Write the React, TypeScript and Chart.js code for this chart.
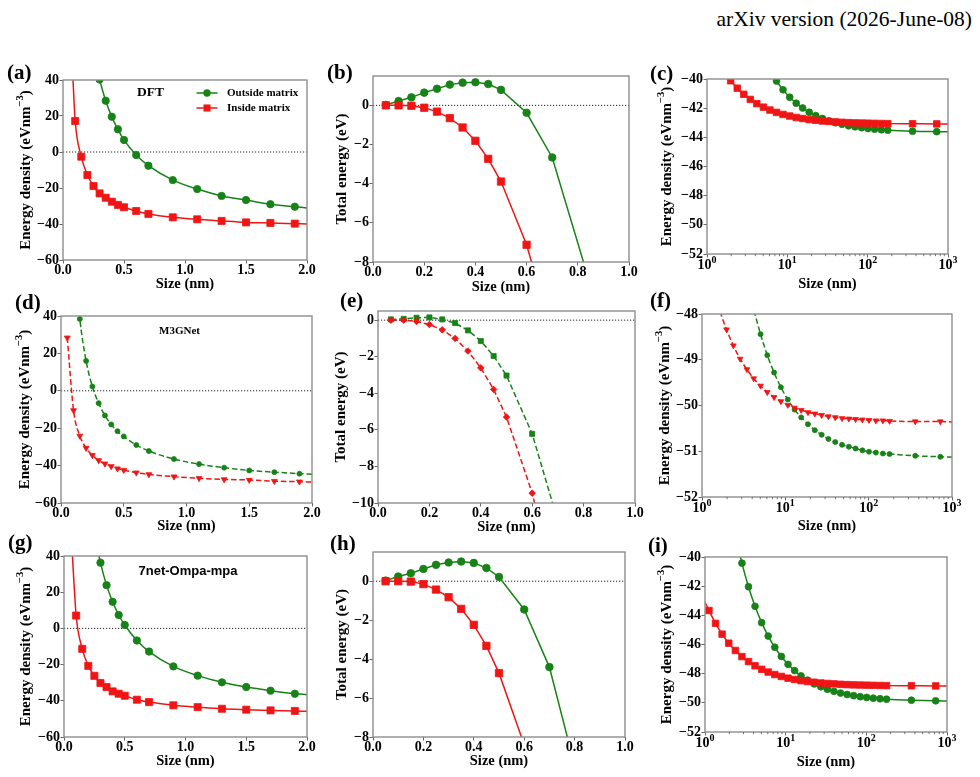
import { useEffect, useRef } from 'react';
import { Chart, registerables } from 'chart.js';

Chart.register(...registerables);

const SERIF = '"Liberation Serif", "Times New Roman", serif';
const SANS = '"Liberation Sans", Arial, sans-serif';
const GREEN = '#178217';
const RED = '#f01515';
const FRAME = '#8d8d8d';
const TICK = '#555555';

type Pt = [number, number] | null;

// ---------- sizes (nm) ----------
const outsideSizes = [0.3, 0.35, 0.4, 0.45, 0.5, 0.6, 0.7, 0.9, 1.1, 1.3, 1.5, 1.7, 1.9];
const insideSizes = [0.1, 0.15, 0.2, 0.25, 0.3, 0.35, 0.4, 0.45, 0.5, 0.6, 0.7, 0.9, 1.1, 1.3, 1.5, 1.7, 1.9];
const m3gnetOutsideSizes = [0.15, 0.2, 0.25, 0.3, 0.35, 0.4, 0.45, 0.5, 0.6, 0.7, 0.9, 1.1, 1.3, 1.5, 1.7, 1.9];
const m3gnetInsideSizes = [0.05, 0.1, 0.15, 0.2, 0.25, 0.3, 0.35, 0.4, 0.45, 0.5, 0.6, 0.7, 0.9, 1.1, 1.3, 1.5, 1.7, 1.9];
const clusterSizes = [0.05, 0.1, 0.15, 0.2, 0.25, 0.3, 0.35, 0.4, 0.45, 0.5, 0.6, 0.7, 0.9];
const logSizes = [1.12, 1.35, 1.63, 1.97, 2.38, 2.87, 3.46, 4.17, 5.04, 6.07, 7.33, 8.84, 10.7, 12.9, 15.5,
  18.7, 22.6, 27.3, 32.9, 39.7, 47.9, 57.8, 69.7, 84.1, 101, 122, 148, 178, 362, 724];

// ---------- DFT ----------
const dftOutsideDensity = [40.3, 28.5, 19.6, 12.6, 6.7, -1.7, -7.6, -15.6, -20.6, -24.4, -26.7, -29.0, -30.4];
const dftOutsideDensityEnds: Pt[] = [[0.28, 46.0], [2.0, -31.1]];
const dftInsideDensity = [17.2, -2.6, -12.8, -18.9, -23.0, -25.4, -27.6, -29.4, -30.7, -32.8, -34.4, -36.3, -37.4, -38.3, -39.1, -39.4, -39.8];
const dftInsideDensityEnds: Pt[] = [[0.075, 50.0], [2.0, -40.0]];
const dftOutsideTotal = [0.02, 0.22, 0.41, 0.65, 0.85, 1.06, 1.16, 1.18, 1.09, 0.79, -0.38, -2.66, -11.4];
const dftInsideTotal = [0.0, 0.0, -0.02, -0.12, -0.32, -0.65, -1.13, -1.81, -2.73, -3.89, -7.12, -11.7, null];
const dftOutsideLarge = [null, null, null, null, null, null, null, null, -38.55, -39.42, -40.14, -40.74, -41.25, -41.66,
  -41.99, -42.28, -42.51, -42.71, -42.87, -43.0, -43.11, -43.21, -43.28, -43.34, -43.4, -43.44, -43.48, -43.51, -43.58, -43.61];
const dftInsideLarge = [null, -38.9, -39.62, -40.12, -40.63, -41.05, -41.4, -41.69, -41.93, -42.13, -42.29, -42.43, -42.54,
  -42.64, -42.71, -42.78, -42.83, -42.88, -42.91, -42.94, -42.97, -42.99, -43.01, -43.02, -43.03, -43.04, -43.05, -43.06, -43.07, -43.08];
const dftOutsideLargeEnds: Pt[] = [null, [1000, -43.62]];
const dftInsideLargeEnds: Pt[] = [null, [1000, -43.08]];

// ---------- M3GNet ----------
const m3gnetOutsideDensity = [38.4, 16.0, 2.3, -6.6, -13.2, -18.0, -21.6, -24.4, -29.0, -32.2, -36.5, -39.2, -41.1, -42.6, -43.5, -44.3];
const m3gnetOutsideDensityEnds: Pt[] = [[0.14, 46.0], [2.0, -44.6]];
const m3gnetInsideDensity = [28.4, -10.5, -24.1, -30.6, -34.5, -37.2, -39.0, -40.4, -41.6, -42.4, -43.8, -44.7, -45.9, -46.8, -47.4, -47.7, -48.3, -48.6];
const m3gnetInsideDensityEnds: Pt[] = [null, [2.0, -48.8]];
const m3gnetOutsideTotal = [0.04, 0.07, 0.13, 0.15, 0.04, -0.16, -0.56, -1.14, -1.96, -3.03, -6.22, -11.0, null];
const m3gnetInsideTotal = [0.0, 0.0, -0.07, -0.24, -0.53, -1.0, -1.69, -2.61, -3.79, -5.3, -9.46, -15.3, null];
const m3gnetOutsideLarge = [null, null, null, null, null, null, -47.21, -47.88, -48.44, -48.9, -49.28, -49.6, -49.87, -50.09,
  -50.26, -50.41, -50.54, -50.64, -50.73, -50.8, -50.86, -50.9, -50.94, -50.98, -51.01, -51.03, -51.05, -51.06, -51.1, -51.12];
const m3gnetInsideLarge = [null, -47.42, -47.92, -48.34, -48.69, -48.98, -49.21, -49.41, -49.57, -49.71, -49.82, -49.91, -49.99,
  -50.05, -50.1, -50.15, -50.18, -50.21, -50.24, -50.26, -50.28, -50.29, -50.3, -50.31, -50.32, -50.33, -50.33, -50.34, -50.35, -50.35];
const m3gnetOutsideLargeEnds: Pt[] = [null, [1000, -51.13]];
const m3gnetInsideLargeEnds: Pt[] = [null, [1000, -50.36]];

// ---------- 7net-Ompa-mpa ----------
const sevennetOutsideDensity = [36.3, 23.9, 14.7, 7.4, 1.9, -6.7, -12.8, -21.0, -26.1, -29.8, -32.4, -34.4, -36.1];
const sevennetOutsideDensityEnds: Pt[] = [[0.28, 42.5], [2.0, -36.6]];
const sevennetInsideDensity = [7.1, -11.3, -20.7, -26.2, -30.2, -32.4, -34.8, -36.1, -37.2, -39.4, -40.7, -42.5, -43.5, -44.4, -44.9, -45.3, -45.6];
const sevennetInsideDensityEnds: Pt[] = [[0.065, 45.0], [2.0, -45.8]];
const sevennetOutsideTotal = [0.03, 0.24, 0.41, 0.63, 0.84, 0.96, 1.01, 0.94, 0.68, 0.22, -1.45, -4.41, -14.5];
const sevennetInsideTotal = [0.0, 0.0, -0.02, -0.15, -0.43, -0.82, -1.42, -2.24, -3.32, -4.72, -8.4, null, null];
const sevennetOutsideLarge = [null, null, null, null, -38.47, -40.42, -42.04, -43.38, -44.5, -45.42, -46.19, -46.82, -47.36,
  -47.79, -48.15, -48.45, -48.7, -48.9, -49.07, -49.21, -49.33, -49.43, -49.51, -49.58, -49.63, -49.68, -49.72, -49.75, -49.82, -49.86];
const sevennetInsideLarge = [-43.67, -44.55, -45.29, -45.91, -46.41, -46.83, -47.17, -47.46, -47.7, -47.89, -48.06, -48.19,
  -48.31, -48.4, -48.48, -48.54, -48.59, -48.64, -48.67, -48.7, -48.73, -48.75, -48.77, -48.78, -48.79, -48.8, -48.81, -48.82, -48.83, -48.84];
const sevennetOutsideLargeEnds: Pt[] = [null, [1000, -49.87]];
const sevennetInsideLargeEnds: Pt[] = [[1.0, -43.1], [1000, -48.84]];

// ---------- ticks ----------
const densityXTicks = [0, 0.5, 1, 1.5, 2];
const totalXTicks = [0, 0.2, 0.4, 0.6, 0.8, 1];
const logXTicks = [1, 10, 100, 1000];
const densityYTicks = [-60, -40, -20, 0, 20, 40];
const totalYTicks = [-8, -6, -4, -2, 0];
const m3gnetTotalYTicks = [-10, -8, -6, -4, -2, 0];
const largeYTicks = [-52, -50, -48, -46, -44, -42, -40];
const m3gnetLargeYTicks = [-52, -51, -50, -49, -48];

const legendLabels = ['Outside matrix', 'Inside matrix'];

interface Series {
  sizes: number[];
  values: (number | null)[];
  ends: Pt[];
  color: string;
  marker: string;
  radius: number;
  rotation?: number;
  dashed?: boolean;
}

interface Panel {
  tag: string;
  tagPos: [number, number];
  rect: [number, number, number, number];
  xLog?: boolean;
  xMin: number;
  xMax: number;
  xTicks: number[];
  yMin: number;
  yMax: number;
  yTicks: number[];
  yTitle: [string, string, string];
  yTitleGap: number;
  xTitleGap: number;
  smooth: boolean;
  zeroLine: boolean;
  series: Series[];
  note?: { text: string; dx: number; dy: number; font: string };
  legend?: boolean;
}

const PAD_L = 72;
const PAD_T = 14;
const PAD_R = 24;
const PAD_B = 48;

const DENSITY_TITLE: [string, string, string] = ['Energy density (eVnm', '\u22123', ')'];
const TOTAL_TITLE: [string, string, string] = ['Total energy (eV)', '', ''];

const solid = (sizes: number[], values: (number | null)[], ends: Pt[], color: string, marker: string, radius: number): Series =>
  ({ sizes, values, ends, color, marker, radius });
const dashed = (sizes: number[], values: (number | null)[], ends: Pt[], color: string, marker: string, radius: number, rotation = 0): Series =>
  ({ sizes, values, ends, color, marker, radius, rotation, dashed: true });

const panels: Panel[] = [
  {
    tag: '(a)', tagPos: [7, 74], rect: [63, 80, 244, 180],
    xMin: 0, xMax: 2, xTicks: densityXTicks, yMin: -60, yMax: 40, yTicks: densityYTicks,
    yTitle: DENSITY_TITLE, yTitleGap: 37, xTitleGap: 24, smooth: true, zeroLine: true,
    series: [
      solid(insideSizes, dftInsideDensity, dftInsideDensityEnds, RED, 'rect', 5),
      solid(outsideSizes, dftOutsideDensity, dftOutsideDensityEnds, GREEN, 'circle', 3.7),
    ],
    note: { text: 'DFT', dx: 87.5, dy: 13, font: `bold 13.5px ${SERIF}` },
    legend: true,
  },
  {
    tag: '(b)', tagPos: [327, 74], rect: [373, 76, 256, 186],
    xMin: 0, xMax: 1, xTicks: totalXTicks, yMin: -8, yMax: 1.5, yTicks: totalYTicks,
    yTitle: TOTAL_TITLE, yTitleGap: 31, xTitleGap: 25, smooth: false, zeroLine: true,
    series: [
      solid(clusterSizes, dftInsideTotal, [null, null], RED, 'rect', 5.2),
      solid(clusterSizes, dftOutsideTotal, [null, null], GREEN, 'circle', 3.8),
    ],
  },
  {
    tag: '(c)', tagPos: [650, 75], rect: [707, 79, 241, 175], xLog: true,
    xMin: 1, xMax: 1000, xTicks: logXTicks, yMin: -52, yMax: -40, yTicks: largeYTicks,
    yTitle: DENSITY_TITLE, yTitleGap: 40, xTitleGap: 30, smooth: true, zeroLine: false,
    series: [
      solid(logSizes, dftInsideLarge, dftInsideLargeEnds, RED, 'rect', 4.6),
      solid(logSizes, dftOutsideLarge, dftOutsideLargeEnds, GREEN, 'circle', 3.4),
    ],
  },
  {
    tag: '(d)', tagPos: [15, 304], rect: [61, 316, 251, 187],
    xMin: 0, xMax: 2, xTicks: densityXTicks, yMin: -60, yMax: 40, yTicks: densityYTicks,
    yTitle: DENSITY_TITLE, yTitleGap: 36, xTitleGap: 23, smooth: true, zeroLine: true,
    series: [
      dashed(m3gnetInsideSizes, m3gnetInsideDensity, m3gnetInsideDensityEnds, RED, 'triangle', 3.4, 180),
      dashed(m3gnetOutsideSizes, m3gnetOutsideDensity, m3gnetOutsideDensityEnds, GREEN, 'circle', 2.5),
    ],
    note: { text: 'M3GNet', dx: 118.5, dy: 15.5, font: `bold 11px ${SERIF}` },
  },
  {
    tag: '(e)', tagPos: [340, 302], rect: [378, 311, 257, 192],
    xMin: 0, xMax: 1, xTicks: totalXTicks, yMin: -10, yMax: 0.5, yTicks: m3gnetTotalYTicks,
    yTitle: TOTAL_TITLE, yTitleGap: 36.5, xTitleGap: 24, smooth: false, zeroLine: true,
    series: [
      dashed(clusterSizes, m3gnetInsideTotal, [null, null], RED, 'rectRot', 3.3),
      dashed(clusterSizes, m3gnetOutsideTotal, [null, null], GREEN, 'rect', 3.6),
    ],
  },
  {
    tag: '(f)', tagPos: [650, 302], rect: [702, 314, 250, 183], xLog: true,
    xMin: 1, xMax: 1000, xTicks: logXTicks, yMin: -52, yMax: -48, yTicks: m3gnetLargeYTicks,
    yTitle: DENSITY_TITLE, yTitleGap: 37, xTitleGap: 29, smooth: true, zeroLine: false,
    series: [
      dashed(logSizes, m3gnetInsideLarge, m3gnetInsideLargeEnds, RED, 'triangle', 3.3, 180),
      dashed(logSizes, m3gnetOutsideLarge, m3gnetOutsideLargeEnds, GREEN, 'circle', 2.5),
    ],
  },
  {
    tag: '(g)', tagPos: [8, 544], rect: [64, 556, 243, 181],
    xMin: 0, xMax: 2, xTicks: densityXTicks, yMin: -60, yMax: 40, yTicks: densityYTicks,
    yTitle: DENSITY_TITLE, yTitleGap: 37.5, xTitleGap: 24, smooth: true, zeroLine: true,
    series: [
      solid(insideSizes, sevennetInsideDensity, sevennetInsideDensityEnds, RED, 'rect', 5),
      solid(outsideSizes, sevennetOutsideDensity, sevennetOutsideDensityEnds, GREEN, 'circle', 3.7),
    ],
    note: { text: '7net-Ompa-mpa', dx: 124, dy: 15.5, font: `bold 13px ${SANS}` },
  },
  {
    tag: '(h)', tagPos: [330, 545], rect: [373, 552, 252, 185],
    xMin: 0, xMax: 1, xTicks: totalXTicks, yMin: -8, yMax: 1.5, yTicks: totalYTicks,
    yTitle: TOTAL_TITLE, yTitleGap: 31, xTitleGap: 24.5, smooth: false, zeroLine: true,
    series: [
      solid(clusterSizes, sevennetInsideTotal, [null, null], RED, 'rect', 5.2),
      solid(clusterSizes, sevennetOutsideTotal, [null, null], GREEN, 'circle', 3.8),
    ],
  },
  {
    tag: '(i)', tagPos: [648, 547], rect: [705, 557, 242, 175], xLog: true,
    xMin: 1, xMax: 1000, xTicks: logXTicks, yMin: -52, yMax: -40, yTicks: largeYTicks,
    yTitle: DENSITY_TITLE, yTitleGap: 37.5, xTitleGap: 30, smooth: true, zeroLine: false,
    series: [
      solid(logSizes, sevennetInsideLarge, sevennetInsideLargeEnds, RED, 'rect', 4.6),
      solid(logSizes, sevennetOutsideLarge, sevennetOutsideLargeEnds, GREEN, 'circle', 3.4),
    ],
  },
];

const minus = (s: string) => s.replace('-', '\u2212');

function drawLegendMarker(ctx: CanvasRenderingContext2D, style: string, x: number, y: number, r: number, color: string) {
  ctx.fillStyle = color;
  ctx.beginPath();
  if (style === 'circle') {
    ctx.arc(x, y, r, 0, Math.PI * 2);
  } else {
    const s = r * Math.SQRT1_2;
    ctx.rect(x - s, y - s, 2 * s, 2 * s);
  }
  ctx.fill();
}

function decorations(p: Panel) {
  return {
    id: 'panelDecorations',
    beforeDatasetsDraw(chart: any) {
      if (!p.zeroLine) return;
      const { ctx, chartArea: a } = chart;
      const y0 = chart.scales.y.getPixelForValue(0);
      ctx.save();
      ctx.strokeStyle = '#222';
      ctx.lineWidth = 1;
      ctx.setLineDash([1.2, 1.8]);
      ctx.beginPath();
      ctx.moveTo(a.left, y0);
      ctx.lineTo(a.right, y0);
      ctx.stroke();
      ctx.restore();
    },
    afterDraw(chart: any) {
      const { ctx, chartArea: a } = chart;
      const xs = chart.scales.x;
      ctx.save();

      // plot frame
      ctx.strokeStyle = FRAME;
      ctx.lineWidth = 1.4;
      ctx.strokeRect(a.left, a.top, a.right - a.left, a.bottom - a.top);

      if (p.xLog) {
        // minor ticks between decades
        ctx.strokeStyle = TICK;
        ctx.lineWidth = 0.8;
        ctx.beginPath();
        for (let i = 0; i < p.xTicks.length - 1; i++) {
          for (let m = 2; m < 10; m++) {
            const px = xs.getPixelForValue(p.xTicks[i] * m);
            ctx.moveTo(px, a.bottom);
            ctx.lineTo(px, a.bottom + 2.2);
          }
        }
        ctx.stroke();
        // 10^k labels
        ctx.fillStyle = '#000';
        ctx.textBaseline = 'alphabetic';
        ctx.textAlign = 'left';
        for (const v of p.xTicks) {
          const px = xs.getPixelForValue(v);
          const exp = String(Math.round(Math.log10(v)));
          ctx.font = `bold 14px ${SERIF}`;
          const wb = ctx.measureText('10').width;
          ctx.font = `bold 10px ${SERIF}`;
          const we = ctx.measureText(exp).width;
          const left = px - (wb + we) / 2;
          ctx.font = `bold 14px ${SERIF}`;
          ctx.fillText('10', left, a.bottom + 15);
          ctx.font = `bold 10px ${SERIF}`;
          ctx.fillText(exp, left + wb, a.bottom + 9);
        }
      }

      // x title
      ctx.fillStyle = '#000';
      ctx.font = `bold 14.5px ${SERIF}`;
      ctx.textAlign = 'center';
      ctx.textBaseline = 'middle';
      ctx.fillText('Size (nm)', (a.left + a.right) / 2, a.bottom + p.xTitleGap);

      // y title (rotated, with superscript)
      const [main, sup, tail] = p.yTitle;
      ctx.save();
      ctx.translate(a.left - p.yTitleGap, (a.top + a.bottom) / 2);
      ctx.rotate(-Math.PI / 2);
      const big = `bold 15px ${SERIF}`;
      const small = `bold 10.5px ${SERIF}`;
      ctx.font = big;
      const w1 = ctx.measureText(main).width;
      const w3 = tail ? ctx.measureText(tail).width : 0;
      ctx.font = small;
      const w2 = sup ? ctx.measureText(sup).width : 0;
      let x = -(w1 + w2 + w3) / 2;
      ctx.textAlign = 'left';
      ctx.textBaseline = 'middle';
      ctx.font = big;
      ctx.fillText(main, x, 0);
      x += w1;
      if (sup) {
        ctx.font = small;
        ctx.fillText(sup, x, -6);
        x += w2;
        ctx.font = big;
        ctx.fillText(tail, x, 0);
      }
      ctx.restore();

      // method annotation
      if (p.note) {
        ctx.font = p.note.font;
        ctx.textAlign = 'center';
        ctx.textBaseline = 'middle';
        ctx.fillStyle = '#000';
        ctx.fillText(p.note.text, a.left + p.note.dx, a.top + p.note.dy);
      }

      // legend
      if (p.legend) {
        const entries = [p.series[1], p.series[0]];
        entries.forEach((s, i) => {
          const cy = a.top + 13 + i * 15;
          const cx = a.left + 144;
          ctx.strokeStyle = s.color;
          ctx.lineWidth = 1.5;
          ctx.beginPath();
          ctx.moveTo(cx - 10.5, cy);
          ctx.lineTo(cx + 10.5, cy);
          ctx.stroke();
          drawLegendMarker(ctx, s.marker, cx, cy, s.radius, s.color);
          ctx.fillStyle = '#000';
          ctx.font = `bold 11px ${SERIF}`;
          ctx.textAlign = 'left';
          ctx.textBaseline = 'middle';
          ctx.fillText(legendLabels[i], a.left + 164, cy);
        });
      }
      ctx.restore();
    },
  };
}

function buildConfig(p: Panel): any {
  const datasets = p.series.map((s) => {
    const pts: { x: number; y: number; m: boolean }[] = [];
    const [head, tail] = s.ends;
    if (head) pts.push({ x: head[0], y: head[1], m: false });
    s.sizes.forEach((x, i) => {
      const y = s.values[i];
      if (y !== null && y !== undefined) pts.push({ x, y, m: true });
    });
    if (tail) pts.push({ x: tail[0], y: tail[1], m: false });
    return {
      data: pts,
      borderColor: s.color,
      backgroundColor: s.color,
      borderWidth: 1.5,
      borderDash: s.dashed ? [5.5, 2.8] : [],
      pointStyle: s.marker,
      pointRotation: s.rotation ?? 0,
      pointRadius: pts.map((q) => (q.m ? s.radius : 0)),
      pointBorderWidth: 0.8,
      pointBackgroundColor: s.color,
      pointBorderColor: s.color,
      cubicInterpolationMode: p.smooth ? 'monotone' : 'default',
      tension: 0,
      clip: 0,
      fill: false,
    };
  });

  const tickFont = { family: SERIF, size: 14, weight: 'bold', lineHeight: 1 };
  const grid = {
    display: true,
    drawOnChartArea: false,
    drawTicks: true,
    tickLength: 3.5,
    tickColor: TICK,
    tickWidth: 0.9,
  };

  return {
    type: 'line',
    data: { datasets },
    options: {
      responsive: false,
      animation: false,
      devicePixelRatio: 1,
      events: [],
      layout: { padding: { left: 0, top: PAD_T, right: PAD_R, bottom: 0 } },
      plugins: { legend: { display: false }, tooltip: { enabled: false } },
      scales: {
        x: {
          type: p.xLog ? 'logarithmic' : 'linear',
          min: p.xMin,
          max: p.xMax,
          bounds: 'data',
          grid,
          border: { display: false },
          afterBuildTicks: (s: any) => {
            s.ticks = p.xTicks.map((v) => ({ value: v }));
          },
          afterFit: (s: any) => {
            s.height = PAD_B;
          },
          ticks: {
            autoSkip: false,
            maxRotation: 0,
            minRotation: 0,
            padding: 0,
            color: '#000',
            font: tickFont,
            callback: (v: any) => (p.xLog ? '' : Number(v).toFixed(1)),
          },
        },
        y: {
          type: 'linear',
          min: p.yMin,
          max: p.yMax,
          bounds: 'data',
          grid,
          border: { display: false },
          afterBuildTicks: (s: any) => {
            s.ticks = p.yTicks.map((v) => ({ value: v }));
          },
          afterFit: (s: any) => {
            s.width = PAD_L;
          },
          ticks: {
            autoSkip: false,
            padding: 0.5,
            color: '#000',
            font: tickFont,
            callback: (v: any) => minus(String(v)),
          },
        },
      },
    },
    plugins: [decorations(p)],
  };
}

function PanelChart({ p }: { p: Panel }) {
  const ref = useRef<HTMLCanvasElement | null>(null);
  useEffect(() => {
    if (!ref.current) return;
    const chart = new Chart(ref.current, buildConfig(p));
    return () => chart.destroy();
  }, [p]);
  const [l, t, w, h] = p.rect;
  return (
    <canvas
      ref={ref}
      width={w + PAD_L + PAD_R}
      height={h + PAD_T + PAD_B}
      style={{ position: 'absolute', left: l - PAD_L, top: t - PAD_T, width: w + PAD_L + PAD_R, height: h + PAD_T + PAD_B }}
    />
  );
}

export default function App() {
  return (
    <div style={{ position: 'absolute', left: 0, top: 0, width: 980, height: 777, background: '#fff', overflow: 'hidden' }}>
      <div
        style={{
          position: 'absolute', right: 8, top: 7, fontFamily: SERIF, fontSize: 21.5, lineHeight: '24px',
          color: '#000', whiteSpace: 'nowrap',
        }}
      >
        arXiv version (2026-June-08)
      </div>
      {panels.map((p) => (
        <PanelChart key={p.tag} p={p} />
      ))}
      {panels.map((p) => (
        <div
          key={p.tag + '-tag'}
          style={{
            position: 'absolute', left: p.tagPos[0], top: p.tagPos[1] - 14, fontFamily: SERIF, fontWeight: 'bold',
            fontSize: 21, lineHeight: '24px', color: '#000', whiteSpace: 'nowrap',
          }}
        >
          {p.tag}
        </div>
      ))}
    </div>
  );
}
